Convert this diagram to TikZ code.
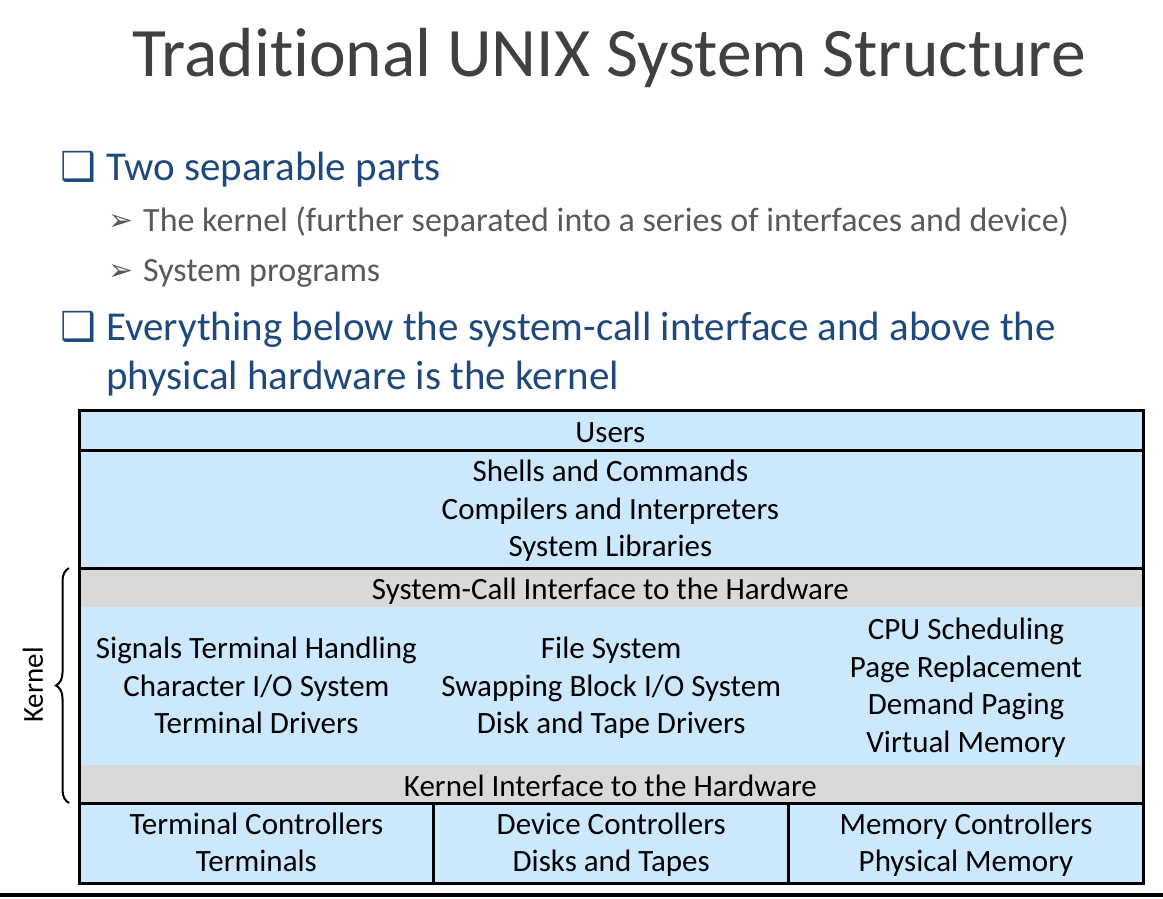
\documentclass[tikz,border=0pt]{standalone}
\usepackage{fontspec}
\setmainfont{Carlito}[Ligatures=NoCommon]
\newfontfamily\glyphfont{DejaVu Sans}
\usetikzlibrary{positioning,decorations.pathreplacing}
\definecolor{titleGray}{RGB}{64,64,64}
\definecolor{bulletBlue}{RGB}{31,73,125}
\definecolor{subGray}{RGB}{89,89,89}
\definecolor{layerBlue}{RGB}{204,232,252}
\definecolor{layerGray}{RGB}{217,217,217}
\tikzset{
  layer/.style={fill=layerBlue, draw=layerBlue, line width=0.8pt, inner sep=0pt,
                minimum width=1062pt, anchor=north west},
  grayband/.style={layer, fill=layerGray, draw=layerGray},
  cell/.style={layer, minimum width=354pt},
  layertext/.style={inner sep=0pt, align=center, yshift=-4.5pt,
                    font=\fontsize{31}{37.5}\selectfont,
                    execute at begin node=\strut, execute at end node=\strut},
  rule/.style={line width=3pt, draw=black},
  bullet/.style={anchor=base west, inner sep=0pt, text=bulletBlue, font=\fontsize{41}{49}\selectfont},
  subbullet/.style={anchor=base west, inner sep=0pt, text=subGray, font=\fontsize{34}{41}\selectfont},
  glyph/.style={anchor=base west, inner sep=0pt}
}
\begin{document}
\begin{tikzpicture}[x=1pt, y=-1pt]
\useasboundingbox (0,0) rectangle (1163,898);

% title and bullets
\node[anchor=base, inner sep=0pt, text=titleGray, font=\fontsize{69.5}{80}\selectfont] (title) at (609,76) {Traditional UNIX System Structure};
\node[glyph, text=bulletBlue, font=\glyphfont\fontsize{40}{46}\selectfont] (sq1) at (60,180) {❑};
\node[bullet] (parts) at (106,180) {Two separable parts};
\node[glyph, text=subGray, font=\glyphfont\fontsize{30}{36}\selectfont] (ar1) at (108,230) {➢};
\node[subbullet] (kern) at (143,231) {The kernel (further separated into a series of interfaces and device)};
\node[glyph, text=subGray, font=\glyphfont\fontsize{30}{36}\selectfont] (ar2) at (108,280) {➢};
\node[subbullet] (progs) at (143,281) {System programs};
\node[glyph, text=bulletBlue, font=\glyphfont\fontsize{40}{46}\selectfont] (sq2) at (60,340) {❑};
\node[bullet] (below) at (106,340) {Everything below the system-call interface and above the};
\node[bullet] (below2) at (106,389) {physical hardware is the kernel};

% layers
\node[layer, minimum height=40pt] (users) at (79,410) {};
\node[layer, minimum height=118pt] (shells) at (79,450) {};
\node[grayband, minimum height=39pt] (syscall) at (79,568) {};
\node[cell, minimum height=158pt] (signals) at (79,607) {};
\node[cell, minimum height=158pt, right=0pt of signals] (files) {};
\node[cell, minimum height=158pt, right=0pt of files] (memory) {};
\node[grayband, minimum height=38pt] (kernint) at (79,765) {};
\node[cell, minimum height=80pt] (termctl) at (79,803) {};
\node[cell, minimum height=80pt, right=0pt of termctl] (devctl) {};
\node[cell, minimum height=80pt, right=0pt of devctl] (memctl) {};

% layer texts
\node[layertext] (usersT) at (users.center) {Users};
\node[layertext] (shellsT) at (shells.center) {Shells and Commands\\Compilers and Interpreters\\System Libraries};
\node[layertext] (syscallT) at (syscall.center) {System-Call Interface to the Hardware};
\node[layertext] (signalsT) at (signals.center) {Signals Terminal Handling\\Character I/O System\\Terminal Drivers};
\node[layertext] (filesT) at (files.center) {File System\\Swapping Block I/O System\\Disk and Tape Drivers};
\node[layertext] (memoryT) at (memory.center) {CPU Scheduling\\Page Replacement\\Demand Paging\\Virtual Memory};
\node[layertext] (kernintT) at (kernint.center) {Kernel Interface to the Hardware};
\node[layertext] (termctlT) at (termctl.center) {Terminal Controllers\\Terminals};
\node[layertext] (devctlT) at (devctl.center) {Device Controllers\\Disks and Tapes};
\node[layertext] (memctlT) at (memctl.center) {Memory Controllers\\Physical Memory};

\draw[rule] (users.south west) -- (users.south east);
\draw[rule] (shells.south west) -- (shells.south east);
\draw[rule] (kernint.south west) -- (kernint.south east);
\draw[rule] (termctl.north east) -- (termctl.south east);
\draw[rule] (devctl.north east) -- (devctl.south east);
\draw[rule] (users.north west) rectangle (memctl.south east);

% kernel brace
\coordinate (ktop) at (69,568);
\coordinate (kbot) at (69,803);
\draw[line width=2pt, decorate, decoration={brace, amplitude=13pt}] (kbot) -- (ktop);
\node[rotate=90, inner sep=0pt, font=\fontsize{29}{34}\selectfont] (klabel) at (33,685) {Kernel};

% slide footer line
\draw[line width=4pt] (0,895) -- (1163,895);
\end{tikzpicture}
\end{document}
